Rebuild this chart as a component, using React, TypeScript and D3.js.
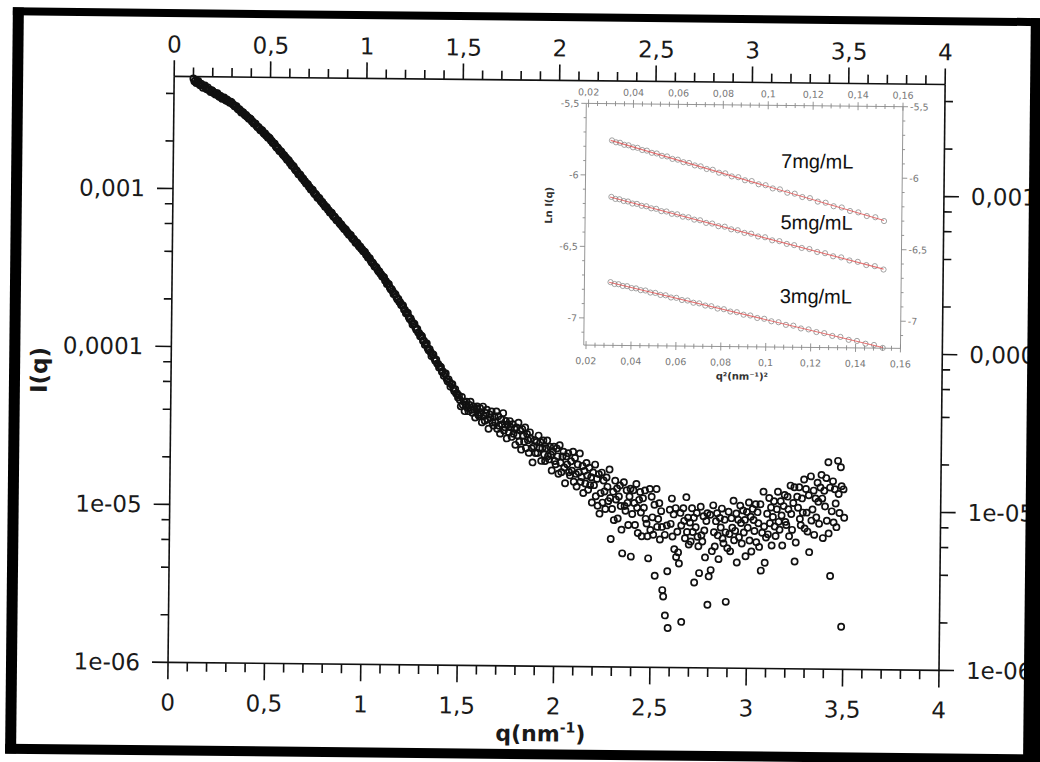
import React from 'react';
import * as d3 from 'd3';

// ---------- main SAXS curve: q (nm^-1) and log10 I(q) ----------
const qSmooth = [
  0.1,0.105,0.11,0.115,0.12,0.125,0.13,0.135,0.14,0.145,0.15,0.155,0.16,0.165,0.17,0.175,0.18,0.185,0.19,0.195,
  0.2,0.205,0.21,0.215,0.22,0.225,0.23,0.235,0.24,0.245,0.25,0.255,0.26,0.265,0.27,0.275,0.28,0.285,0.29,0.295,
  0.3,0.305,0.31,0.315,0.32,0.325,0.33,0.335,0.34,0.345,0.35,0.355,0.36,0.365,0.37,0.375,0.38,0.385,0.39,0.395,
  0.4,0.405,0.41,0.415,0.42,0.425,0.43,0.435,0.44,0.445,0.45,0.455,0.46,0.465,0.47,0.475,0.48,0.485,0.49,0.495,
  0.5,0.505,0.51,0.515,0.52,0.525,0.53,0.535,0.54,0.545,0.55,0.555,0.56,0.565,0.57,0.575,0.58,0.585,0.59,0.595,
  0.6,0.605,0.61,0.615,0.62,0.625,0.63,0.635,0.64,0.645,0.65,0.655,0.66,0.665,0.67,0.675,0.68,0.685,0.69,0.695,
  0.7,0.705,0.71,0.715,0.72,0.725,0.73,0.735,0.74,0.745,0.75,0.755,0.76,0.765,0.77,0.775,0.78,0.785,0.79,0.795,
  0.8,0.805,0.81,0.815,0.82,0.825,0.83,0.835,0.84,0.845,0.85,0.855,0.86,0.865,0.87,0.875,0.88,0.885,0.89,0.895,
  0.9,0.905,0.91,0.915,0.92,0.925,0.93,0.935,0.94,0.945,0.95,0.955,0.96,0.965,0.97,0.975,0.98,0.985,0.99,0.995,
  1.0,1.005,1.01,1.015,1.02,1.025,1.03,1.035,1.04,1.045,1.05,1.055,1.06,1.065,1.07,1.075,1.08,1.085,1.09,1.095,
  1.1,1.105,1.11,1.115,1.12,1.125,1.13,1.135,1.14,1.145,1.15,1.155,1.16,1.165,1.17,1.175,1.18,1.185,1.19,1.195,
  1.2,1.205,1.21,1.215,1.22,1.225,1.23,1.235,1.24,1.245,1.25,1.255,1.26,1.265,1.27,1.275,1.28,1.285,1.29,1.295,
  1.3,1.305,1.31,1.315,1.32,1.325,1.33,1.335,1.34,1.345,1.35,1.355,1.36,1.365,1.37,1.375,1.38,1.385,1.39,1.395,
  1.4,1.405,1.41,1.415,1.42,1.425,1.43,1.435,1.44,1.445,1.45,1.455,1.46,1.465,1.47,1.475,1.48,1.485,1.49,1.495,
];
const log10ISmooth = [
  -2.302,-2.320,-2.316,-2.331,-2.321,-2.317,-2.337,-2.344,-2.334,-2.344,-2.360,-2.347,-2.345,-2.361,-2.369,-2.358,-2.374,-2.372,-2.386,-2.375,
  -2.379,-2.393,-2.391,-2.403,-2.396,-2.394,-2.409,-2.416,-2.409,-2.417,-2.429,-2.421,-2.420,-2.432,-2.439,-2.432,-2.444,-2.443,-2.454,-2.447,
  -2.451,-2.463,-2.465,-2.476,-2.474,-2.475,-2.489,-2.496,-2.494,-2.502,-2.514,-2.511,-2.513,-2.524,-2.532,-2.530,-2.541,-2.543,-2.554,-2.552,
  -2.556,-2.569,-2.571,-2.583,-2.582,-2.584,-2.598,-2.606,-2.605,-2.614,-2.626,-2.624,-2.627,-2.639,-2.647,-2.646,-2.658,-2.661,-2.672,-2.671,
  -2.676,-2.690,-2.693,-2.706,-2.706,-2.709,-2.724,-2.733,-2.733,-2.743,-2.756,-2.755,-2.759,-2.772,-2.781,-2.781,-2.794,-2.798,-2.810,-2.810,
  -2.816,-2.831,-2.834,-2.848,-2.848,-2.852,-2.867,-2.877,-2.877,-2.888,-2.901,-2.901,-2.905,-2.919,-2.928,-2.929,-2.942,-2.947,-2.959,-2.960,
  -2.966,-2.980,-2.984,-2.997,-2.997,-3.000,-3.016,-3.025,-3.025,-3.035,-3.049,-3.048,-3.052,-3.065,-3.075,-3.075,-3.088,-3.092,-3.105,-3.105,
  -3.111,-3.125,-3.128,-3.141,-3.141,-3.144,-3.159,-3.168,-3.168,-3.178,-3.191,-3.190,-3.194,-3.207,-3.216,-3.216,-3.229,-3.233,-3.245,-3.245,
  -3.251,-3.265,-3.268,-3.281,-3.281,-3.284,-3.299,-3.308,-3.308,-3.318,-3.331,-3.330,-3.334,-3.347,-3.356,-3.356,-3.369,-3.373,-3.385,-3.385,
  -3.391,-3.406,-3.410,-3.424,-3.425,-3.429,-3.445,-3.455,-3.456,-3.467,-3.481,-3.481,-3.486,-3.500,-3.510,-3.511,-3.525,-3.530,-3.543,-3.544,
  -3.549,-3.569,-3.572,-3.590,-3.588,-3.591,-3.612,-3.624,-3.623,-3.636,-3.654,-3.651,-3.656,-3.674,-3.686,-3.684,-3.702,-3.707,-3.723,-3.722,
  -3.727,-3.751,-3.753,-3.774,-3.770,-3.772,-3.798,-3.811,-3.807,-3.823,-3.845,-3.838,-3.842,-3.864,-3.878,-3.873,-3.895,-3.899,-3.919,-3.914,
  -3.920,-3.947,-3.947,-3.972,-3.964,-3.964,-3.994,-4.008,-4.001,-4.018,-4.043,-4.032,-4.035,-4.059,-4.074,-4.066,-4.091,-4.093,-4.116,-4.108,
  -4.113,-4.143,-4.141,-4.168,-4.156,-4.153,-4.187,-4.202,-4.190,-4.208,-4.236,-4.221,-4.221,-4.248,-4.264,-4.252,-4.279,-4.279,-4.304,-4.292,
];

const qNoisy = [
  1.5,1.505,1.51,1.515,1.52,1.525,1.53,1.535,1.54,1.545,1.55,1.555,1.56,1.565,1.57,1.575,1.58,1.585,1.59,1.595,
  1.6,1.605,1.61,1.615,1.62,1.625,1.63,1.635,1.64,1.645,1.65,1.655,1.66,1.665,1.67,1.675,1.68,1.685,1.69,1.695,
  1.7,1.705,1.71,1.715,1.72,1.725,1.73,1.735,1.74,1.745,1.75,1.755,1.76,1.765,1.77,1.775,1.78,1.785,1.79,1.795,
  1.8,1.805,1.81,1.815,1.82,1.825,1.83,1.835,1.84,1.845,1.85,1.855,1.86,1.865,1.87,1.875,1.88,1.885,1.89,1.895,
  1.9,1.905,1.91,1.915,1.92,1.925,1.93,1.935,1.94,1.945,1.95,1.955,1.96,1.965,1.97,1.975,1.98,1.985,1.99,1.995,
  2.0,2.005,2.01,2.015,2.02,2.025,2.03,2.035,2.04,2.045,2.05,2.055,2.06,2.065,2.07,2.075,2.08,2.085,2.09,2.095,
  2.1,2.105,2.11,2.115,2.12,2.125,2.13,2.135,2.14,2.145,2.15,2.155,2.16,2.165,2.17,2.175,2.18,2.185,2.19,2.195,
  2.2,2.205,2.21,2.215,2.22,2.225,2.23,2.235,2.24,2.245,2.25,2.255,2.26,2.265,2.27,2.275,2.28,2.285,2.29,2.295,
  2.3,2.305,2.31,2.315,2.32,2.325,2.33,2.335,2.34,2.345,2.35,2.355,2.36,2.365,2.37,2.375,2.38,2.385,2.39,2.395,
  2.4,2.405,2.41,2.415,2.42,2.425,2.43,2.435,2.44,2.445,2.45,2.455,2.46,2.465,2.47,2.475,2.48,2.485,2.49,2.495,
  2.5,2.505,2.51,2.515,2.52,2.525,2.53,2.535,2.54,2.545,2.55,2.555,2.56,2.565,2.57,2.575,2.58,2.585,2.59,2.595,
  2.6,2.605,2.61,2.615,2.62,2.625,2.63,2.635,2.64,2.645,2.65,2.655,2.66,2.665,2.67,2.675,2.68,2.685,2.69,2.695,
  2.7,2.705,2.71,2.715,2.72,2.725,2.73,2.735,2.74,2.745,2.75,2.755,2.76,2.765,2.77,2.775,2.78,2.785,2.79,2.795,
  2.8,2.805,2.81,2.815,2.82,2.825,2.83,2.835,2.84,2.845,2.85,2.855,2.86,2.865,2.87,2.875,2.88,2.885,2.89,2.895,
  2.9,2.905,2.91,2.915,2.92,2.925,2.93,2.935,2.94,2.945,2.95,2.955,2.96,2.965,2.97,2.975,2.98,2.985,2.99,2.995,
  3.0,3.005,3.01,3.015,3.02,3.025,3.03,3.035,3.04,3.045,3.05,3.055,3.06,3.065,3.07,3.075,3.08,3.085,3.09,3.095,
  3.1,3.105,3.11,3.115,3.12,3.125,3.13,3.135,3.14,3.145,3.15,3.155,3.16,3.165,3.17,3.175,3.18,3.185,3.19,3.195,
  3.2,3.205,3.21,3.215,3.22,3.225,3.23,3.235,3.24,3.245,3.25,3.255,3.26,3.265,3.27,3.275,3.28,3.285,3.29,3.295,
  3.3,3.305,3.31,3.315,3.32,3.325,3.33,3.335,3.34,3.345,3.35,3.355,3.36,3.365,3.37,3.375,3.38,3.385,3.39,3.395,
  3.4,3.405,3.41,3.415,3.42,3.425,3.43,3.435,3.44,3.445,3.45,3.455,3.46,3.465,3.47,3.475,3.48,3.485,3.49,3.495,3.5,
];
const log10INoisy = [
  -4.32,-4.36,-4.30,-4.35,-4.33,-4.39,-4.35,-4.33,-4.37,-4.39,-4.35,-4.33,-4.38,-4.40,-4.36,-4.38,-4.43,-4.37,-4.36,-4.41,
  -4.42,-4.37,-4.40,-4.46,-4.36,-4.42,-4.45,-4.40,-4.38,-4.44,-4.50,-4.41,-4.43,-4.39,-4.46,-4.48,-4.42,-4.46,-4.39,-4.50,
  -4.42,-4.48,-4.53,-4.44,-4.47,-4.40,-4.51,-4.49,-4.45,-4.56,-4.47,-4.52,-4.45,-4.49,-4.55,-4.47,-4.53,-4.50,-4.60,-4.49,
  -4.54,-4.46,-4.58,-4.51,-4.63,-4.50,-4.54,-4.58,-4.49,-4.62,-4.53,-4.57,-4.65,-4.52,-4.56,-4.62,-4.71,-4.61,-4.57,-4.65,
  -4.58,-4.65,-4.54,-4.62,-4.58,-4.70,-4.62,-4.57,-4.66,-4.70,-4.62,-4.57,-4.67,-4.69,-4.61,-4.66,-4.76,-4.64,-4.61,-4.70,
  -4.72,-4.62,-4.67,-4.78,-4.60,-4.71,-4.77,-4.67,-4.64,-4.74,-4.84,-4.67,-4.72,-4.65,-4.77,-4.79,-4.70,-4.76,-4.64,-4.83,
  -4.68,-4.78,-4.86,-4.72,-4.77,-4.65,-4.83,-4.80,-4.73,-4.90,-4.76,-4.84,-4.71,-4.79,-4.88,-4.74,-4.85,-4.80,-4.96,-4.77,
  -4.85,-4.72,-4.92,-4.81,-4.98,-4.78,-5.03,-4.90,-4.77,-4.96,-4.82,-4.89,-5.00,-4.80,-4.86,-4.95,-4.75,-4.93,-5.19,-5.00,
  -4.89,-5.07,-4.82,-4.94,-4.87,-5.06,-4.92,-4.85,-4.98,-5.13,-5.28,-4.83,-4.98,-5.01,-4.88,-4.96,-5.10,-4.92,-4.87,-5.30,
  -5.03,-4.88,-4.96,-5.10,-4.84,-4.99,-5.15,-4.94,-4.89,-5.02,-5.17,-4.93,-4.99,-4.88,-5.06,-5.09,-5.17,-5.31,-4.87,-5.13,
  -4.92,-5.05,-5.16,-4.97,-5.42,-4.87,-5.11,-5.06,-4.96,-5.19,-5.01,-5.11,-5.51,-5.55,-5.16,-5.67,-5.10,-5.39,-5.75,-5.00,
  -5.09,-4.93,-5.17,-5.03,-5.25,-4.99,-5.30,-5.14,-5.27,-5.34,-5.02,-5.10,-5.71,-4.99,-5.07,-5.18,-4.92,-5.14,-5.05,-5.22,
  -5.08,-5.20,-4.99,-5.14,-5.05,-5.46,-5.11,-5.02,-5.17,-5.23,-5.40,-4.98,-5.16,-5.20,-5.04,-5.13,-5.30,-5.07,-5.02,-5.60,
  -5.42,-5.03,-5.38,-5.26,-4.97,-5.14,-5.23,-5.07,-5.02,-5.16,-5.31,-5.05,-5.11,-4.99,-5.18,-5.21,-5.06,-5.14,-5.58,-5.24,
  -5.01,-5.15,-5.26,-5.05,-5.11,-4.94,-5.19,-5.13,-5.02,-5.33,-5.06,-5.17,-4.97,-5.08,-5.21,-5.00,-5.14,-5.06,-5.29,-5.01,
  -5.11,-4.95,-5.19,-5.04,-5.26,-4.99,-5.06,-5.13,-4.96,-5.20,-5.01,-5.08,-5.23,-4.96,-5.38,-5.14,-4.88,-5.10,-5.33,-5.17,
  -5.02,-5.15,-4.92,-5.08,-4.98,-5.22,-5.04,-4.94,-5.10,-5.16,-4.99,-4.88,-5.07,-5.12,-4.94,-5.03,-5.22,-4.97,-4.90,-5.07,
  -5.09,-4.91,-4.99,-5.16,-4.84,-5.02,-5.12,-4.95,-4.85,-5.32,-5.20,-4.91,-4.98,-4.85,-5.05,-5.09,-4.92,-5.01,-4.80,-5.11,
  -4.86,-5.01,-5.13,-4.90,-5.26,-4.78,-5.06,-4.99,-4.87,-5.15,-4.92,-5.04,-4.82,-4.94,-5.08,-4.85,-4.77,-4.92,-5.17,-4.87,
  -4.97,-4.79,-5.06,-4.69,-5.14,-4.85,-5.41,-5.00,-4.81,-5.07,-4.86,-4.95,-5.10,-4.68,-4.89,-5.01,-4.72,-4.84,-5.73,-4.86,-5.04,
];

// ---------- axes ----------
const xMajorTicks = [0, 0.5, 1, 1.5, 2, 2.5, 3, 3.5, 4];
const xTickLabels = ['0', '0,5', '1', '1,5', '2', '2,5', '3', '3,5', '4'];
const yMajorTicks = [1e-6, 1e-5, 1e-4, 1e-3];
const yTickLabels = ['1e-06', '1e-05', '0,0001', '0,001'];
const yMinorMultipliers = [2, 4, 6, 8];

// ---------- inset: Guinier plots ----------
const insetQ2 = [
  0.0306,0.0324,0.0342,0.0361,0.0380,0.0400,0.0420,0.0441,0.0462,0.0484,
  0.0506,0.0529,0.0552,0.0576,0.0600,0.0625,0.0650,0.0676,0.0702,0.0729,
  0.0756,0.0784,0.0812,0.0841,0.0870,0.0900,0.0930,0.0961,0.0992,0.1024,
  0.1056,0.1089,0.1122,0.1156,0.1190,0.1225,0.1260,0.1296,0.1332,0.1369,
  0.1406,0.1444,0.1482,0.1521,
];
const lnI7 = [
  -5.757,-5.770,-5.773,-5.787,-5.790,-5.804,-5.807,-5.822,-5.826,-5.841,
  -5.845,-5.861,-5.865,-5.882,-5.887,-5.904,-5.909,-5.926,-5.932,-5.950,
  -5.955,-5.975,-5.979,-6.000,-6.005,-6.026,-6.031,-6.053,-6.059,-6.081,
  -6.087,-6.110,-6.116,-6.139,-6.146,-6.170,-6.177,-6.201,-6.209,-6.233,
  -6.242,-6.267,-6.275,-6.301,
];
const lnI5 = [
  -6.152,-6.166,-6.168,-6.180,-6.183,-6.197,-6.199,-6.212,-6.215,-6.229,
  -6.232,-6.248,-6.250,-6.266,-6.269,-6.285,-6.289,-6.305,-6.309,-6.327,
  -6.331,-6.349,-6.352,-6.370,-6.376,-6.394,-6.399,-6.418,-6.423,-6.444,
  -6.449,-6.468,-6.476,-6.495,-6.502,-6.522,-6.530,-6.551,-6.558,-6.579,
  -6.588,-6.610,-6.617,-6.640,
];
const lnI3 = [
  -6.748,-6.761,-6.762,-6.774,-6.775,-6.788,-6.790,-6.802,-6.804,-6.818,
  -6.820,-6.834,-6.836,-6.851,-6.853,-6.868,-6.871,-6.886,-6.890,-6.905,
  -6.909,-6.925,-6.929,-6.945,-6.949,-6.966,-6.971,-6.988,-6.993,-7.010,
  -7.016,-7.034,-7.039,-7.058,-7.064,-7.082,-7.089,-7.108,-7.114,-7.134,
  -7.141,-7.160,-7.168,-7.188,
];
const fitQ2 = [0.03, 0.1521];
const fit7 = [-5.757, -6.297];
const fit5 = [-6.153, -6.637];
const fit3 = [-6.749, -7.185];
const seriesNames = ['7mg/mL', '5mg/mL', '3mg/mL'];
const labelQ2 = [0.106, 0.106, 0.106];
const labelLnI = [-5.937, -6.365, -6.881];

const insetXTicks = [0.02, 0.04, 0.06, 0.08, 0.1, 0.12, 0.14, 0.16];
const insetXLabels = ['0,02', '0,04', '0,06', '0,08', '0,1', '0,12', '0,14', '0,16'];
const insetYTicks = [-5.5, -6, -6.5, -7];
const insetYLabels = ['-5,5', '-6', '-6,5', '-7'];

const FONT = '"DejaVu Sans", Verdana, sans-serif';

export default function App() {
  const W = 1040, H = 762;
  const L = 171, R = 942, T = 80, B = 666;
  const x = d3.scaleLinear().domain([0, 4]).range([L, R]);
  const y = d3.scaleLog().domain([1e-6, 0.00513]).range([B, T]);

  const xMinor = x.ticks(40).filter(v => !xMajorTicks.some(m => Math.abs(m - v) < 1e-9));
  const yMinor: number[] = [];
  yMajorTicks.forEach(d => yMinorMultipliers.forEach(m => {
    const v = d * m;
    if (v <= y.domain()[1]) yMinor.push(v);
  }));

  const points = [
    ...d3.zip(qSmooth, log10ISmooth),
    ...d3.zip(qNoisy, log10INoisy),
  ].map(([q, l]) => ({ q, I: Math.pow(10, l) }));

  // inset
  const iL = 583.4, iR = 900.1, iT = 102.7, iB = 344.4;
  const ix = d3.scaleLinear().domain([0.019, 0.16]).range([iL, iR]);
  const iy = d3.scaleLinear().domain([-7.19, -5.5]).range([iB, iT]);
  const ixMinor = d3.range(0, 36).map(i => 0.02 + i * 0.004).filter(v => v <= 0.1601);
  const iyMinor = d3.range(0, 17).map(i => -7.1 + i * 0.1).filter(v => v <= -5.49);
  const insetSeries = [lnI7, lnI5, lnI3];
  const fits = [fit7, fit5, fit3];
  const line = d3.line<[number, number]>().x(d => ix(d[0])).y(d => iy(d[1]));

  const axisStroke = '#111';
  const tickFont = 23;

  return (
    <svg width={W} height={H} style={{ position: 'absolute', left: 0, top: 0, background: '#fff' }}
      fontFamily={FONT}>
      <rect x={0} y={0} width={W} height={H} fill="#fff" />
      <g transform="rotate(0.6 520 381)">
        {/* data points */}
        <g fill="none" stroke="#111" strokeWidth={1.7}>
          {points.map((p, i) => (
            <circle key={i} cx={x(p.q)} cy={y(p.I)} r={3.1} />
          ))}
        </g>

        {/* axes box lines */}
        <g stroke={axisStroke} strokeWidth={1.6} fill="none">
          <line x1={L} x2={R} y1={B} y2={B} />
          <line x1={L} x2={R} y1={T} y2={T} />
          <line x1={L} x2={L} y1={T} y2={B} />
          <line x1={R} x2={R} y1={T} y2={B} />
          {xMajorTicks.map(v => (
            <g key={'xm' + v}>
              <line x1={x(v)} x2={x(v)} y1={B} y2={B + 17} />
              <line x1={x(v)} x2={x(v)} y1={T} y2={T - 16} />
            </g>
          ))}
          {xMinor.map(v => (
            <g key={'xn' + v}>
              <line x1={x(v)} x2={x(v)} y1={B} y2={B + 9} />
              <line x1={x(v)} x2={x(v)} y1={T} y2={T - 9} />
            </g>
          ))}
          {yMajorTicks.map(v => (
            <g key={'ym' + v}>
              <line x1={L} x2={L - 16} y1={y(v)} y2={y(v)} />
              <line x1={R} x2={R + 15} y1={y(v)} y2={y(v)} />
            </g>
          ))}
          {yMinor.map(v => (
            <g key={'yn' + v}>
              <line x1={L} x2={L - 8} y1={y(v)} y2={y(v)} />
              <line x1={R} x2={R + 8} y1={y(v)} y2={y(v)} />
            </g>
          ))}
        </g>

        {/* tick labels */}
        <g fontSize={tickFont} fill="#1a1a1a">
          {xMajorTicks.map((v, i) => (
            <g key={'xl' + v}>
              <text x={x(v)} y={B + 48} textAnchor="middle">{xTickLabels[i]}</text>
              <text x={x(v)} y={T - 24} textAnchor="middle">{xTickLabels[i]}</text>
            </g>
          ))}
          {yMajorTicks.map((v, i) => (
            <g key={'yl' + v}>
              <text x={L - 28} y={y(v) + 8} textAnchor="end">{yTickLabels[i]}</text>
              <text x={R + 27} y={y(v) + 8} textAnchor="start">{yTickLabels[i]}</text>
            </g>
          ))}
        </g>

        {/* axis titles */}
        <text x={544} y={741} textAnchor="middle" fontSize={22} fontWeight="bold" fill="#1a1a1a">
          q(nm<tspan fontSize={14} dy={-9}>-1</tspan><tspan dy={9}>)</tspan>
        </text>
        <text transform={`translate(${47},${375}) rotate(-90)`} textAnchor="middle" fontSize={23}
          fontWeight="bold" fill="#1a1a1a">I(q)</text>

        {/* inset */}
        <g>
          <rect x={iL} y={iT} width={iR - iL} height={iB - iT} fill="#fff" />
          <g stroke="#8a8a8a" strokeWidth={0.9} fill="none">
            <line x1={iL} x2={iR} y1={iT} y2={iT} />
            <line x1={iL} x2={iR} y1={iB} y2={iB} />
            <line x1={iL} x2={iL} y1={iT} y2={iB} />
            <line x1={iR} x2={iR} y1={iT} y2={iB} />
            {ixMinor.map(v => {
              const major = insetXTicks.some(m => Math.abs(m - v) < 1e-6);
              const len = major ? 4 : 2.5;
              return (
                <g key={'ixt' + v}>
                  <line x1={ix(v)} x2={ix(v)} y1={iB - len} y2={iB + len} />
                  <line x1={ix(v)} x2={ix(v)} y1={iT - len} y2={iT + len} />
                </g>
              );
            })}
            {iyMinor.map(v => {
              const major = insetYTicks.some(m => Math.abs(m - v) < 1e-6);
              const len = major ? 5 : 2.5;
              return (
                <g key={'iyt' + v}>
                  <line x1={iL - len} x2={iL} y1={iy(v)} y2={iy(v)} />
                  <line x1={iR} x2={iR + len} y1={iy(v)} y2={iy(v)} />
                </g>
              );
            })}
          </g>
          <g fontSize={9.5} fill="#777">
            {insetXTicks.map((v, i) => (
              <g key={'ixl' + v}>
                <text x={ix(v)} y={iB + 19} textAnchor="middle">{insetXLabels[i]}</text>
                <text x={ix(v)} y={iT - 8} textAnchor="middle">{insetXLabels[i]}</text>
              </g>
            ))}
            {insetYTicks.map((v, i) => (
              <g key={'iyl' + v}>
                <text x={iL - 7} y={iy(v) + 3.5} textAnchor="end">{insetYLabels[i]}</text>
                <text x={iR + 7} y={iy(v) + 3.5} textAnchor="start">{insetYLabels[i]}</text>
              </g>
            ))}
          </g>
          <text x={(iL + iR) / 2} y={iB + 33} textAnchor="middle" fontSize={10} fontWeight="bold"
            fill="#333">q²(nm⁻¹)²</text>
          <text transform={`translate(${iL - 33},${205}) rotate(-90)`} textAnchor="middle" fontSize={10}
            fontWeight="bold" fill="#333">Ln I(q)</text>

          {insetSeries.map((s, k) => (
            <g key={'is' + k} fill="none" stroke="#8c8c8c" strokeWidth={0.8}>
              {s.map((v, i) => (
                <circle key={i} cx={ix(insetQ2[i])} cy={iy(v)} r={2.6} />
              ))}
            </g>
          ))}
          {fits.map((f, k) => (
            <path key={'fit' + k} d={line(d3.zip(fitQ2, f) as [number, number][]) || ''}
              stroke="#e04848" strokeOpacity={0.75} strokeWidth={1.1} fill="none" />
          ))}
          {seriesNames.map((n, k) => (
            <text key={n} x={ix(labelQ2[k])} y={iy(labelLnI[k])} fontSize={20}
              fontFamily='"Liberation Sans", Arial, sans-serif' fill="#111">{n}</text>
          ))}
        </g>

        {/* scanned page frame */}
        <g fill="#000">
          <rect x={9} y={12.7} width={11} height={746} />
          <rect x={9} y={12.7} width={1040} height={8} />
          <rect x={1027} y={12.7} width={20} height={746} />
          <rect x={9} y={749} width={1040} height={10} />
        </g>
      </g>
    </svg>
  );
}
